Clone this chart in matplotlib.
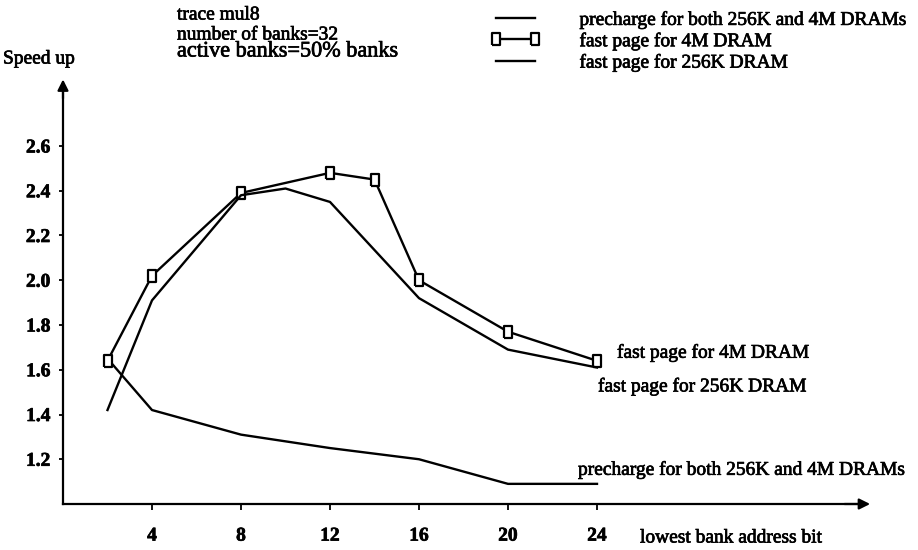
import matplotlib
matplotlib.use("Agg")
import matplotlib.pyplot as plt
import matplotlib.patheffects as pe

plt.rcParams['font.family'] = ['Liberation Serif', 'DejaVu Serif']

# speed up vs. lowest bank address bit (trace mul8)
bits_precharge = [2, 4, 8, 12, 16, 20, 24]
speedup_precharge = [1.65, 1.42, 1.31, 1.25, 1.20, 1.09, 1.09]

bits_4m = [2, 4, 8, 12, 14, 16, 20, 24]
speedup_4m = [1.64, 2.02, 2.39, 2.48, 2.45, 2.00, 1.77, 1.64]

bits_256k = [2, 4, 8, 10, 12, 16, 20, 24]
speedup_256k = [1.42, 1.91, 2.38, 2.41, 2.35, 1.92, 1.69, 1.61]

x_ticks = [4, 8, 12, 16, 20, 24]
y_ticks = [1.2, 1.4, 1.6, 1.8, 2.0, 2.2, 2.4, 2.6]

W, H = 918, 550
X0, XS = 63, 22.25      # pixel of x=0, pixels per unit
Y0, YS = 504, 223.75    # pixel of y=1.0, pixels per unit

# thickens the thin serif strokes a little
heavy = [pe.withStroke(linewidth=0.5, foreground='k')]

fig = plt.figure(figsize=(W / 100, H / 100), dpi=100)
ax = fig.add_axes([0, 0, 1, 1])
ax.set_xlim(-X0 / XS, (W - X0) / XS)
ax.set_ylim(1.0 - (H - Y0) / YS, 1.0 + Y0 / YS)

# axes drawn as arrows through the origin
for side in ('top', 'right'):
    ax.spines[side].set_visible(False)
ax.spines['left'].set_position(('data', 0))
ax.spines['bottom'].set_position(('data', 1.0))
ax.spines['left'].set_bounds(1.0, 2.86)
ax.spines['bottom'].set_bounds(0, 35.8)
for sp in ('left', 'bottom'):
    ax.spines[sp].set_linewidth(1.6)
arrow = dict(arrowstyle='-|>', color='k', lw=1.6, mutation_scale=16)
ax.annotate('', xy=(0, 2.91), xytext=(0, 2.80), arrowprops=arrow)
ax.annotate('', xy=(36.4, 1.0), xytext=(35.0, 1.0), arrowprops=arrow)

ax.set_xticks(x_ticks)
ax.set_xticklabels([str(v) for v in x_ticks], fontweight='bold')
ax.set_yticks(y_ticks)
ax.set_yticklabels(['%.1f' % v for v in y_ticks], fontweight='bold')
ax.tick_params(axis='x', direction='out', length=4, width=1.3, pad=13, labelsize=14)
ax.tick_params(axis='y', direction='out', length=3, width=1.3, pad=6, labelsize=14)

box = [(-0.65, -1), (0.65, -1), (0.65, 1), (-0.65, 1), (-0.65, -1)]
l_pre, = ax.plot(bits_precharge, speedup_precharge, color='k', lw=1.7)
l_4m, = ax.plot(bits_4m, speedup_4m, color='k', lw=1.7, marker=box,
                markersize=8, markerfacecolor='white', markeredgewidth=1.6)
l_256k, = ax.plot(bits_256k, speedup_256k, color='k', lw=1.7)

texts = []
# end-of-line labels
texts.append(ax.annotate('fast page for 4M DRAM', (bits_4m[-1], speedup_4m[-1]),
                         xytext=(20, 8), textcoords='offset pixels',
                         fontsize=14, va='center'))
texts.append(ax.annotate('fast page for 256K DRAM', (bits_256k[-1], speedup_256k[-1]),
                         xytext=(1, -19), textcoords='offset pixels',
                         fontsize=14, va='center'))
texts.append(ax.annotate('precharge for both 256K and 4M DRAMs',
                         (bits_precharge[-1], speedup_precharge[-1]),
                         xytext=(-19, 14), textcoords='offset pixels',
                         fontsize=14, va='center'))

texts.append(fig.text(640 / W, 1 - 538 / H, 'lowest bank address bit', fontsize=14, va='center'))
texts.append(fig.text(3 / W, 1 - 59 / H, 'Speed up', fontsize=14, va='center'))
texts.append(fig.text(177 / W, 1 - 15 / H, 'trace mul8', fontsize=14, va='center'))
texts.append(fig.text(177 / W, 1 - 35 / H, 'number of banks=32', fontsize=14, va='center'))
texts.append(fig.text(177 / W, 1 - 52 / H, 'active banks=50% banks', fontsize=16, va='center'))

leg = ax.legend([l_pre, l_4m, l_256k],
                ['precharge for both 256K and 4M DRAMs', 'fast page for 4M DRAM',
                 'fast page for 256K DRAM'],
                loc='upper left', bbox_to_anchor=(490 / W, 1 - 11 / H), frameon=False,
                fontsize=14, handlelength=2.6, handletextpad=2.0, labelspacing=0.18,
                borderpad=0, borderaxespad=0, numpoints=2)
texts.extend(leg.get_texts())
texts.extend(ax.get_xticklabels() + ax.get_yticklabels())

for t in texts:
    t.set_path_effects(heavy)

fig.savefig('out.png', dpi=100)
